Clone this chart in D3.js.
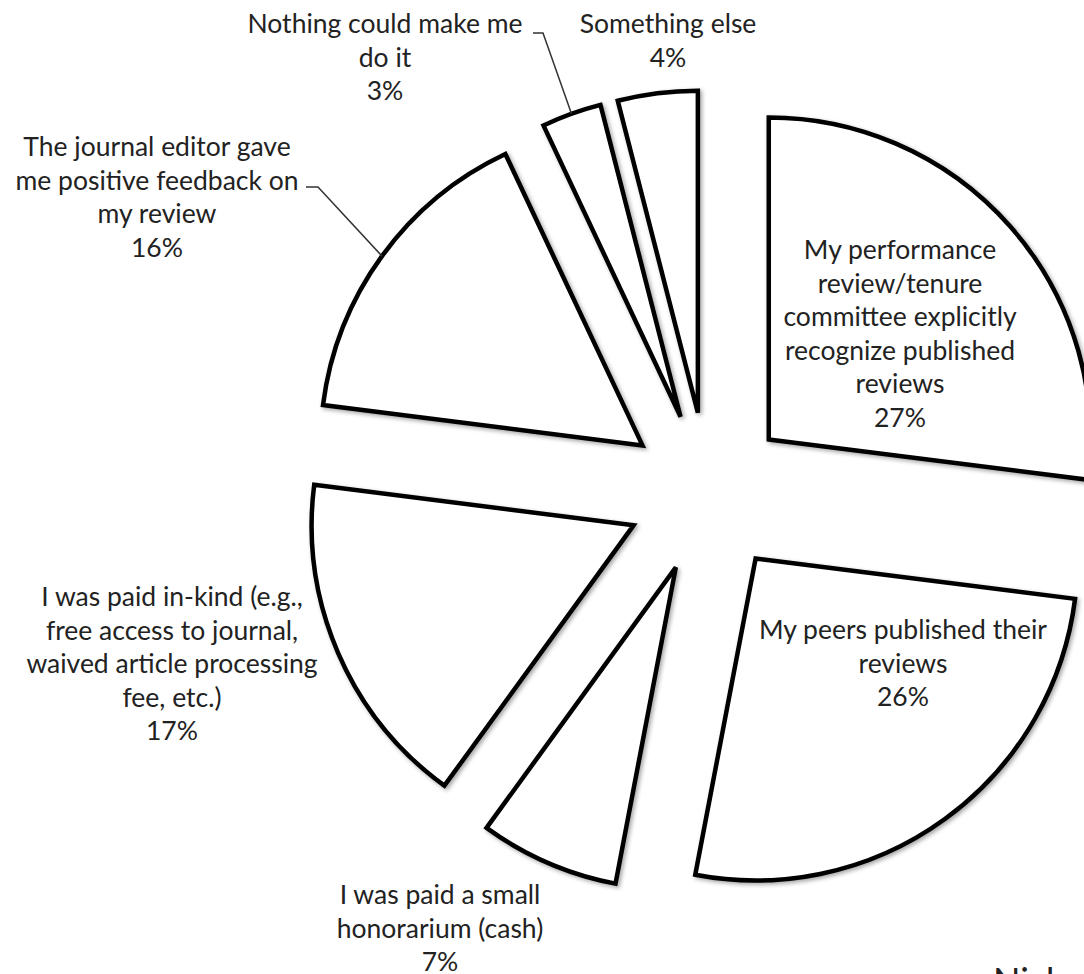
<!DOCTYPE html>
<html>
<head>
<meta charset="utf-8">
<script src="https://cdn.jsdelivr.net/npm/d3@7"></script>
<style>
  html, body { margin: 0; padding: 0; background: #fff; overflow: hidden; }
  svg { display: block; }
  text { font-family: Lato, "Open Sans", sans-serif; fill: #222; }
</style>
</head>
<body>
<script>
// ---- data ----
const categories = [
  "My performance\nreview/tenure\ncommittee explicitly\nrecognize published\nreviews",
  "My peers published their\nreviews",
  "I was paid a small\nhonorarium (cash)",
  "I was paid in-kind (e.g.,\nfree access to journal,\nwaived article processing\nfee, etc.)",
  "The journal editor gave\nme positive feedback on\nmy review",
  "Nothing could make me\ndo it",
  "Something else"
];
const values = [27, 26, 7, 17, 16, 3, 4];

// ---- layout ----
const W = 1084, H = 974;
const cx = 708, cy = 493, R = 322, explode = 81;
const fontSize = 26.5, lineH = 33.5;
// label block anchors: [centerX, firstLineCenterY]
const labelAnchors = [
  [900, 250], [903, 630], [440, 895], [172, 597], [157, 147], [385, 24], [668, 24]
];
// leader line start points (label side) for labels that have one
const leaders = { 4: [[306, 187], [318, 187]], 5: [[533, 33], [543, 33]] };

const svg = d3.select("body").append("svg").attr("width", W).attr("height", H);
const defs = svg.append("defs");
const f = defs.append("filter").attr("id", "sh").attr("x", "-20%").attr("y", "-20%").attr("width", "140%").attr("height", "140%");
f.append("feDropShadow").attr("dx", 2).attr("dy", 2).attr("stdDeviation", 2).attr("flood-color", "#000").attr("flood-opacity", 0.35);

const pie = d3.pie().sort(null).value(d => d).startAngle(0).endAngle(2 * Math.PI);
const arcs = pie(values);
const arc = d3.arc().innerRadius(0).outerRadius(R);

const g = svg.append("g").attr("transform", `translate(${cx},${cy})`);

function offset(a) {
  const m = (a.startAngle + a.endAngle) / 2;
  return [Math.sin(m) * explode, -Math.cos(m) * explode];
}

g.selectAll("path.slice").data(arcs).join("path")
  .attr("class", "slice")
  .attr("transform", d => { const o = offset(d); return `translate(${o[0]},${o[1]})`; })
  .attr("d", arc)
  .attr("fill", "#fff")
  .attr("stroke", "#000")
  .attr("stroke-width", 4.5)
  .attr("stroke-linejoin", "miter")
  .attr("filter", "url(#sh)");

// leader lines
Object.keys(leaders).forEach(k => {
  const a = arcs[+k];
  const o = offset(a);
  const m = (a.startAngle + a.endAngle) / 2;
  const end = [cx + o[0] + Math.sin(m) * R, cy + o[1] - Math.cos(m) * R];
  const pts = leaders[k].concat([end]);
  svg.append("path")
    .attr("d", d3.line()(pts))
    .attr("fill", "none")
    .attr("stroke", "#333")
    .attr("stroke-width", 1.5);
});

// labels
arcs.forEach((a, i) => {
  const lines = categories[i].split("\n").concat([values[i] + "%"]);
  const [x, y0] = labelAnchors[i];
  const t = svg.append("text")
    .attr("text-anchor", "middle")
    .attr("font-size", fontSize);
  lines.forEach((ln, j) => {
    t.append("tspan").attr("x", x).attr("y", y0 + j * lineH).attr("dy", "0.35em").text(ln);
  });
});

// clipped fragment of neighbouring text at bottom right
svg.append("text").attr("x", 993).attr("y", 994).attr("font-size", 36).text("Nick");
</script>
</body>
</html>
